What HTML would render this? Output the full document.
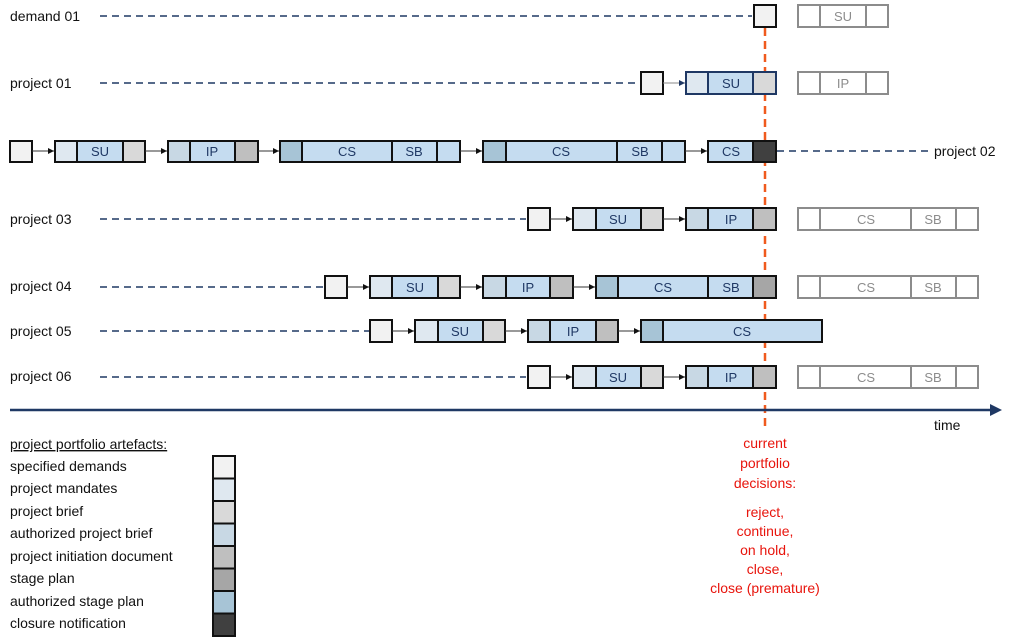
<!DOCTYPE html>
<html><head><meta charset="utf-8"><style>
body{margin:0;background:#fff;}
svg{display:block;font-family:"Liberation Sans",sans-serif;}
.b{stroke:#111;stroke-width:2;}
.n{stroke:#1f3864;stroke-width:2;}
.g{stroke:#8c8c8c;stroke-width:2;fill:#fff;}
.t{font-size:13px;fill:#1f3864;text-anchor:middle;}
.tg{font-size:13px;fill:#8c8c8c;text-anchor:middle;}
.l{font-size:14px;fill:#111;}
.d{stroke:#1f3864;stroke-width:1.6;stroke-dasharray:7,5;}
.a{stroke:#333;stroke-width:1;}
.r{font-size:14px;fill:#e8140c;text-anchor:middle;}
</style></head><body>
<svg width="1024" height="642" viewBox="0 0 1024 642">
<defs><marker id="ar" markerWidth="7" markerHeight="7" refX="6" refY="3" orient="auto"><path d="M0,0 L6,3 L0,6z" fill="#111"/></marker>
<marker id="an" markerWidth="7" markerHeight="7" refX="6" refY="3" orient="auto"><path d="M0,0 L6,3 L0,6z" fill="#1f3864"/></marker></defs>

<!-- red line (behind boxes) -->
<line x1="765" y1="28" x2="765" y2="430" stroke="#f05a1e" stroke-width="2.5" stroke-dasharray="8,5"/>

<!-- labels -->
<text class="l" x="10" y="21">demand 01</text>
<text class="l" x="10" y="88">project 01</text>
<text class="l" x="934" y="156">project 02</text>
<text class="l" x="10" y="224">project 03</text>
<text class="l" x="10" y="291">project 04</text>
<text class="l" x="10" y="336">project 05</text>
<text class="l" x="10" y="381">project 06</text>

<!-- demand 01 -->
<line class="d" x1="100" y1="16" x2="752" y2="16"/>
<rect class="b" x="754" y="5" width="22" height="22" fill="#f2f2f2"/>
<rect class="g" x="798" y="5" width="90" height="22"/><line class="g" x1="820" y1="5" x2="820" y2="27"/><line class="g" x1="866" y1="5" x2="866" y2="27"/>
<text class="tg" x="843" y="21">SU</text>

<!-- project 01 -->
<line class="d" x1="100" y1="83" x2="639" y2="83"/>
<rect class="b" x="641" y="72" width="22" height="22" fill="#f2f2f2"/>
<line x1="663" y1="83" x2="685" y2="83" stroke="#888" stroke-width="1" marker-end="url(#an)"/>
<rect class="n" x="686" y="72" width="22" height="22" fill="#dfe8f0"/>
<rect class="n" x="708" y="72" width="45" height="22" fill="#c5dcf0"/>
<rect class="n" x="753" y="72" width="23" height="22" fill="#d9d9d9"/>
<text class="t" x="731" y="88">SU</text>
<rect class="g" x="798" y="72" width="90" height="22"/><line class="g" x1="820" y1="72" x2="820" y2="94"/><line class="g" x1="866" y1="72" x2="866" y2="94"/>
<text class="tg" x="843" y="88">IP</text>

<!-- project 02 -->
<rect class="b" x="10" y="141" width="22" height="21" fill="#f2f2f2"/>
<line class="a" x1="32" y1="151" x2="54" y2="151" marker-end="url(#ar)"/>
<rect class="b" x="55" y="141" width="22" height="21" fill="#dfe8f0"/>
<rect class="b" x="77" y="141" width="46" height="21" fill="#c5dcf0"/>
<rect class="b" x="123" y="141" width="22" height="21" fill="#d9d9d9"/>
<text class="t" x="100" y="156">SU</text>
<line class="a" x1="145" y1="151" x2="167" y2="151" marker-end="url(#ar)"/>
<rect class="b" x="168" y="141" width="22" height="21" fill="#c8d8e4"/>
<rect class="b" x="190" y="141" width="45" height="21" fill="#c5dcf0"/>
<rect class="b" x="235" y="141" width="23" height="21" fill="#bfbfbf"/>
<text class="t" x="212" y="156">IP</text>
<line class="a" x1="258" y1="151" x2="279" y2="151" marker-end="url(#ar)"/>
<rect class="b" x="280" y="141" width="22" height="21" fill="#a7c4d6"/>
<rect class="b" x="302" y="141" width="90" height="21" fill="#c5dcf0"/>
<rect class="b" x="392" y="141" width="45" height="21" fill="#c5dcf0"/>
<rect class="b" x="437" y="141" width="23" height="21" fill="#c5dcf0"/>
<text class="t" x="347" y="156">CS</text><text class="t" x="414" y="156">SB</text>
<line class="a" x1="460" y1="151" x2="482" y2="151" marker-end="url(#ar)"/>
<rect class="b" x="483" y="141" width="23" height="21" fill="#a7c4d6"/>
<rect class="b" x="506" y="141" width="111" height="21" fill="#c5dcf0"/>
<rect class="b" x="617" y="141" width="45" height="21" fill="#c5dcf0"/>
<rect class="b" x="662" y="141" width="23" height="21" fill="#c5dcf0"/>
<text class="t" x="561" y="156">CS</text><text class="t" x="640" y="156">SB</text>
<line class="a" x1="685" y1="151" x2="707" y2="151" marker-end="url(#ar)"/>
<rect class="b" x="708" y="141" width="45" height="21" fill="#c5dcf0"/>
<rect class="b" x="753" y="141" width="23" height="21" fill="#404040"/>
<text class="t" x="731" y="156">CS</text>
<line class="d" x1="777" y1="151" x2="930" y2="151"/>

<!-- project 03 -->
<line class="d" x1="100" y1="219" x2="526" y2="219"/>
<rect class="b" x="528" y="208" width="22" height="22" fill="#f2f2f2"/>
<line class="a" x1="550" y1="219" x2="572" y2="219" marker-end="url(#ar)"/>
<rect class="b" x="573" y="208" width="23" height="22" fill="#dfe8f0"/>
<rect class="b" x="596" y="208" width="45" height="22" fill="#c5dcf0"/>
<rect class="b" x="641" y="208" width="22" height="22" fill="#d9d9d9"/>
<text class="t" x="618" y="224">SU</text>
<line class="a" x1="663" y1="219" x2="685" y2="219" marker-end="url(#ar)"/>
<rect class="b" x="686" y="208" width="22" height="22" fill="#c8d8e4"/>
<rect class="b" x="708" y="208" width="45" height="22" fill="#c5dcf0"/>
<rect class="b" x="753" y="208" width="23" height="22" fill="#bfbfbf"/>
<text class="t" x="731" y="224">IP</text>
<rect class="g" x="798" y="208" width="180" height="22"/><line class="g" x1="820" y1="208" x2="820" y2="230"/><line class="g" x1="911" y1="208" x2="911" y2="230"/><line class="g" x1="956" y1="208" x2="956" y2="230"/>
<text class="tg" x="866" y="224">CS</text><text class="tg" x="933" y="224">SB</text>

<!-- project 04 -->
<line class="d" x1="100" y1="287" x2="324" y2="287"/>
<rect class="b" x="325" y="276" width="22" height="22" fill="#f2f2f2"/>
<line class="a" x1="347" y1="287" x2="369" y2="287" marker-end="url(#ar)"/>
<rect class="b" x="370" y="276" width="22" height="22" fill="#dfe8f0"/>
<rect class="b" x="392" y="276" width="46" height="22" fill="#c5dcf0"/>
<rect class="b" x="438" y="276" width="22" height="22" fill="#d9d9d9"/>
<text class="t" x="415" y="292">SU</text>
<line class="a" x1="460" y1="287" x2="482" y2="287" marker-end="url(#ar)"/>
<rect class="b" x="483" y="276" width="23" height="22" fill="#c8d8e4"/>
<rect class="b" x="506" y="276" width="44" height="22" fill="#c5dcf0"/>
<rect class="b" x="550" y="276" width="23" height="22" fill="#bfbfbf"/>
<text class="t" x="528" y="292">IP</text>
<line class="a" x1="573" y1="287" x2="595" y2="287" marker-end="url(#ar)"/>
<rect class="b" x="596" y="276" width="22" height="22" fill="#a7c4d6"/>
<rect class="b" x="618" y="276" width="90" height="22" fill="#c5dcf0"/>
<rect class="b" x="708" y="276" width="45" height="22" fill="#c5dcf0"/>
<rect class="b" x="753" y="276" width="23" height="22" fill="#a6a6a6"/>
<text class="t" x="663" y="292">CS</text><text class="t" x="731" y="292">SB</text>
<rect class="g" x="798" y="276" width="180" height="22"/><line class="g" x1="820" y1="276" x2="820" y2="298"/><line class="g" x1="911" y1="276" x2="911" y2="298"/><line class="g" x1="956" y1="276" x2="956" y2="298"/>
<text class="tg" x="866" y="292">CS</text><text class="tg" x="933" y="292">SB</text>

<!-- project 05 -->
<line class="d" x1="100" y1="331" x2="369" y2="331"/>
<rect class="b" x="370" y="320" width="22" height="22" fill="#f2f2f2"/>
<line class="a" x1="392" y1="331" x2="414" y2="331" marker-end="url(#ar)"/>
<rect class="b" x="415" y="320" width="23" height="22" fill="#dfe8f0"/>
<rect class="b" x="438" y="320" width="45" height="22" fill="#c5dcf0"/>
<rect class="b" x="483" y="320" width="22" height="22" fill="#d9d9d9"/>
<text class="t" x="460" y="336">SU</text>
<line class="a" x1="505" y1="331" x2="527" y2="331" marker-end="url(#ar)"/>
<rect class="b" x="528" y="320" width="22" height="22" fill="#c8d8e4"/>
<rect class="b" x="550" y="320" width="46" height="22" fill="#c5dcf0"/>
<rect class="b" x="596" y="320" width="22" height="22" fill="#bfbfbf"/>
<text class="t" x="573" y="336">IP</text>
<line class="a" x1="618" y1="331" x2="640" y2="331" marker-end="url(#ar)"/>
<rect class="b" x="641" y="320" width="22" height="22" fill="#a7c4d6"/>
<rect class="b" x="663" y="320" width="159" height="22" fill="#c5dcf0"/>
<text class="t" x="742" y="336">CS</text>

<!-- project 06 -->
<line class="d" x1="100" y1="377" x2="526" y2="377"/>
<rect class="b" x="528" y="366" width="22" height="22" fill="#f2f2f2"/>
<line class="a" x1="550" y1="377" x2="572" y2="377" marker-end="url(#ar)"/>
<rect class="b" x="573" y="366" width="23" height="22" fill="#dfe8f0"/>
<rect class="b" x="596" y="366" width="45" height="22" fill="#c5dcf0"/>
<rect class="b" x="641" y="366" width="22" height="22" fill="#d9d9d9"/>
<text class="t" x="618" y="382">SU</text>
<line class="a" x1="663" y1="377" x2="685" y2="377" marker-end="url(#ar)"/>
<rect class="b" x="686" y="366" width="22" height="22" fill="#c8d8e4"/>
<rect class="b" x="708" y="366" width="45" height="22" fill="#c5dcf0"/>
<rect class="b" x="753" y="366" width="23" height="22" fill="#bfbfbf"/>
<text class="t" x="731" y="382">IP</text>
<rect class="g" x="798" y="366" width="180" height="22"/><line class="g" x1="820" y1="366" x2="820" y2="388"/><line class="g" x1="911" y1="366" x2="911" y2="388"/><line class="g" x1="956" y1="366" x2="956" y2="388"/>
<text class="tg" x="866" y="382">CS</text><text class="tg" x="933" y="382">SB</text>

<!-- time axis -->
<line x1="10" y1="410" x2="992" y2="410" stroke="#1f3864" stroke-width="2.5"/>
<path d="M990,404 L1002,410 L990,416z" fill="#1f3864"/>
<text class="l" x="934" y="430">time</text>

<!-- red text -->
<text class="r" x="765" y="448">current</text>
<text class="r" x="765" y="468">portfolio</text>
<text class="r" x="765" y="488">decisions:</text>
<text class="r" x="765" y="517">reject,</text>
<text class="r" x="765" y="536">continue,</text>
<text class="r" x="765" y="555">on hold,</text>
<text class="r" x="765" y="574">close,</text>
<text class="r" x="765" y="593">close (premature)</text>

<!-- legend -->
<text class="l" x="10" y="449" text-decoration="underline">project portfolio artefacts:</text>
<text class="l" x="10" y="471">specified demands</text>
<text class="l" x="10" y="493">project mandates</text>
<text class="l" x="10" y="516">project brief</text>
<text class="l" x="10" y="538">authorized project brief</text>
<text class="l" x="10" y="561">project initiation document</text>
<text class="l" x="10" y="583">stage plan</text>
<text class="l" x="10" y="606">authorized stage plan</text>
<text class="l" x="10" y="628">closure notification</text>
<rect class="b" x="213" y="456" width="22" height="22.5" fill="#f2f2f2"/>
<rect class="b" x="213" y="478.5" width="22" height="22.5" fill="#dfe8f0"/>
<rect class="b" x="213" y="501" width="22" height="22.5" fill="#d9d9d9"/>
<rect class="b" x="213" y="523.5" width="22" height="22.5" fill="#c8d8e4"/>
<rect class="b" x="213" y="546" width="22" height="22.5" fill="#bfbfbf"/>
<rect class="b" x="213" y="568.5" width="22" height="22.5" fill="#a6a6a6"/>
<rect class="b" x="213" y="591" width="22" height="22.5" fill="#a7c4d6"/>
<rect class="b" x="213" y="613.5" width="22" height="22.5" fill="#404040"/>
</svg>
</body></html>
